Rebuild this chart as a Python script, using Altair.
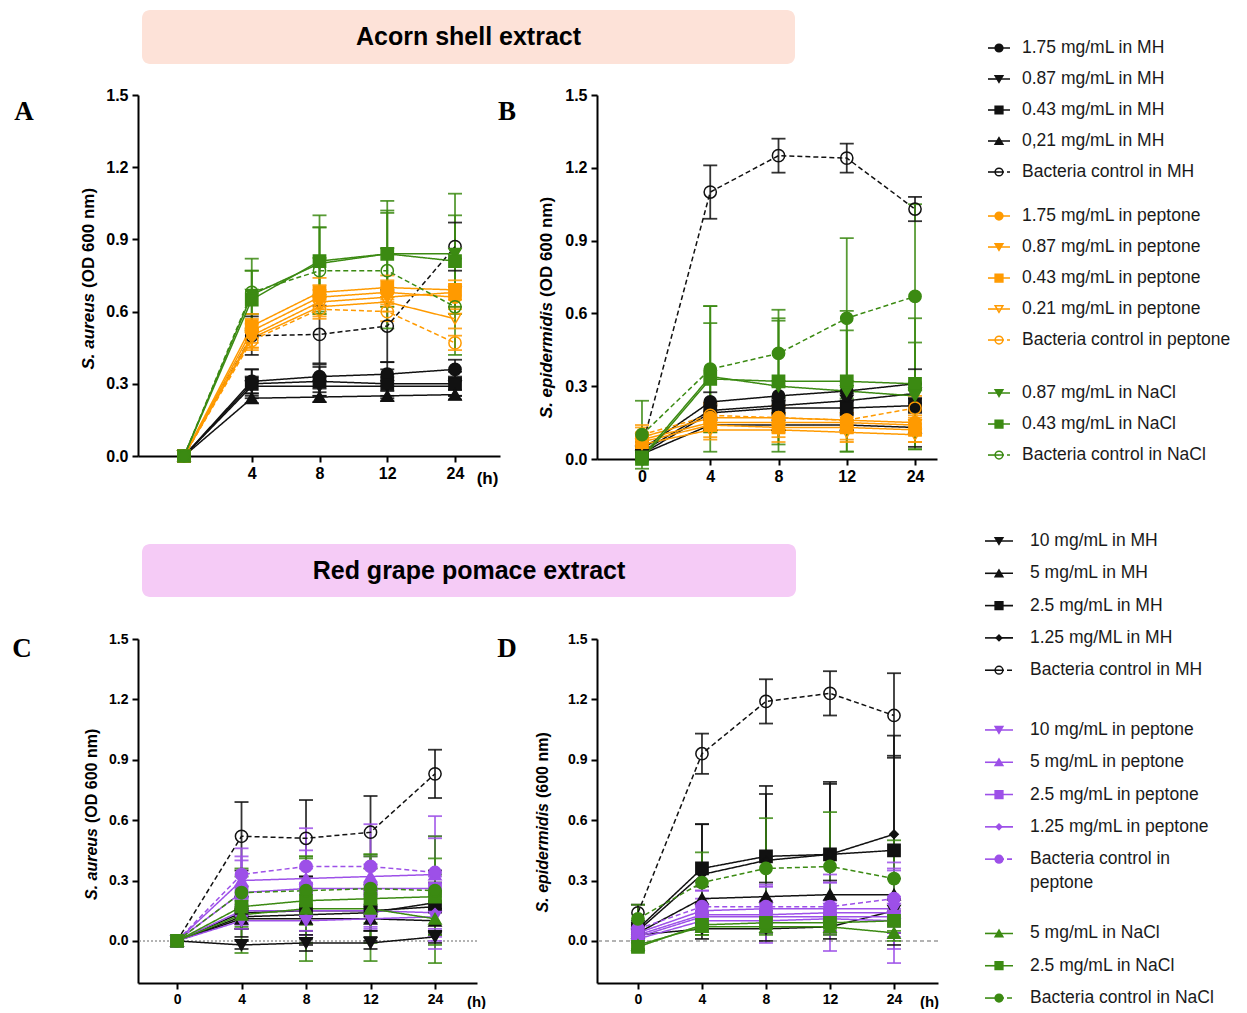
import altair as alt
import pandas as pd

# ---------------- data ----------------
TIMES = [0, 4, 8, 12, 24]
TIME_LABELS = ["0", "4", "8", "12", "24"]
Y_TICKS = [0.0, 0.3, 0.6, 0.9, 1.2, 1.5]

TITLE_ACORN = "Acorn shell extract"
TITLE_GRAPE = "Red grape pomace extract"

ACORN_LABELS = ["1.75 mg/mL in MH", "0.87 mg/mL in MH", "0.43 mg/mL in MH", "0,21 mg/mL in MH",
                "Bacteria control in MH",
                "1.75 mg/mL in peptone", "0.87 mg/mL in peptone", "0.43 mg/mL in peptone",
                "0.21 mg/mL in peptone", "Bacteria control in peptone",
                "0.87 mg/mL in NaCl", "0.43 mg/mL in NaCl", "Bacteria control in NaCl"]
GRAPE_LABELS = ["10 mg/mL in MH", "5 mg/mL in MH", "2.5 mg/mL in MH", "1.25 mg/ML in MH",
                "Bacteria control in MH",
                "10 mg/mL in peptone", "5 mg/mL in peptone", "2.5 mg/mL in peptone",
                "1.25 mg/mL in peptone", "Bacteria control in\npeptone",
                "5 mg/mL in NaCl", "2.5 mg/mL in NaCl", "Bacteria control in NaCl"]

# Panel A - S. aureus, acorn shell extract
A_MH_175 = [0.00, 0.31, 0.33, 0.34, 0.36]
A_MH_087 = [0.00, 0.29, 0.29, 0.29, 0.29]
A_MH_043 = [0.00, 0.30, 0.31, 0.30, 0.30]
A_MH_021 = [0.00, 0.24, 0.245, 0.25, 0.255]
A_MH_CTRL = [0.00, 0.50, 0.505, 0.54, 0.87]
A_PEP_175 = [0.00, 0.52, 0.66, 0.68, 0.66]
A_PEP_087 = [0.00, 0.50, 0.64, 0.66, 0.68]
A_PEP_043 = [0.00, 0.54, 0.68, 0.70, 0.69]
A_PEP_021 = [0.00, 0.49, 0.62, 0.64, 0.57]
A_PEP_CTRL = [0.00, 0.48, 0.61, 0.60, 0.47]
A_NACL_087 = [0.00, 0.67, 0.80, 0.84, 0.84]
A_NACL_043 = [0.00, 0.65, 0.81, 0.84, 0.81]
A_NACL_CTRL = [0.00, 0.68, 0.77, 0.77, 0.62]
A_SD = [[0, 0.05, 0.05, 0.05, 0.04], [0, 0.04, 0.04, 0.04, 0.04], [0, 0.06, 0.06, 0.06, 0.05],
        [0, 0.02, 0.02, 0.02, 0.02], [0, 0.08, 0.12, 0.15, 0.10],
        [0, 0.05, 0.05, 0.05, 0.04], [0, 0.05, 0.05, 0.04, 0.03], [0, 0.05, 0.06, 0.05, 0.04],
        [0, 0.04, 0.04, 0.04, 0.04], [0, 0.04, 0.04, 0.04, 0.03],
        [0, 0.15, 0.20, 0.22, 0.25], [0, 0.12, 0.14, 0.18, 0.19], [0, 0.09, 0.18, 0.24, 0.20]]

# Panel B - S. epidermidis, acorn shell extract
B_MH_175 = [0.04, 0.235, 0.26, 0.28, 0.31]
B_MH_087 = [0.03, 0.20, 0.22, 0.24, 0.27]
B_MH_043 = [0.02, 0.19, 0.21, 0.21, 0.22]
B_MH_021 = [0.02, 0.14, 0.14, 0.14, 0.13]
B_MH_CTRL = [0.05, 1.10, 1.25, 1.24, 1.03]
B_PEP_175 = [0.09, 0.17, 0.17, 0.16, 0.15]
B_PEP_087 = [0.08, 0.15, 0.15, 0.15, 0.14]
B_PEP_043 = [0.07, 0.14, 0.13, 0.13, 0.12]
B_PEP_021 = [0.06, 0.12, 0.12, 0.11, 0.10]
B_PEP_CTRL = [0.10, 0.18, 0.17, 0.16, 0.21]
B_NACL_087 = [0.01, 0.34, 0.30, 0.28, 0.26]
B_NACL_043 = [0.00, 0.33, 0.32, 0.32, 0.31]
B_NACL_CTRL = [0.10, 0.37, 0.435, 0.58, 0.67]
B_SD = [[0.03, 0.04, 0.04, 0.04, 0.06], [0.02, 0.03, 0.03, 0.03, 0.04], [0.02, 0.03, 0.03, 0.03, 0.03],
        [0.02, 0.02, 0.02, 0.02, 0.08], [0.02, 0.11, 0.07, 0.06, 0.05],
        [0.04, 0.05, 0.05, 0.05, 0.05], [0.03, 0.04, 0.04, 0.04, 0.04], [0.03, 0.06, 0.06, 0.06, 0.05],
        [0.03, 0.03, 0.03, 0.03, 0.03], [0.04, 0.05, 0.05, 0.05, 0.05],
        [0.01, 0.22, 0.27, 0.25, 0.22], [0.01, 0.30, 0.26, 0.29, 0.27], [0.14, 0.26, 0.18, 0.33, 0.38]]

# Panel C - S. aureus, red grape pomace extract
C_MH_10 = [0.00, -0.02, -0.01, -0.01, 0.02]
C_MH_5 = [0.00, 0.11, 0.11, 0.11, 0.10]
C_MH_25 = [0.00, 0.14, 0.15, 0.15, 0.17]
C_MH_125 = [0.00, 0.12, 0.13, 0.14, 0.19]
C_MH_CTRL = [0.00, 0.52, 0.51, 0.54, 0.83]
C_PEP_10 = [0.00, 0.10, 0.10, 0.11, 0.12]
C_PEP_5 = [0.00, 0.30, 0.31, 0.32, 0.33]
C_PEP_25 = [0.00, 0.24, 0.26, 0.26, 0.26]
C_PEP_125 = [0.00, 0.15, 0.15, 0.15, 0.14]
C_PEP_CTRL = [0.00, 0.33, 0.37, 0.37, 0.34]
C_NACL_5 = [0.00, 0.13, 0.16, 0.16, 0.11]
C_NACL_25 = [0.00, 0.17, 0.20, 0.21, 0.22]
C_NACL_CTRL = [0.00, 0.24, 0.25, 0.26, 0.25]
C_SD = [[0, 0.02, 0.04, 0.03, 0.03], [0, 0.05, 0.06, 0.06, 0.06], [0, 0.08, 0.17, 0.10, 0.12],
        [0, 0.10, 0.12, 0.14, 0.16], [0, 0.17, 0.19, 0.18, 0.12],
        [0, 0.04, 0.05, 0.05, 0.10], [0, 0.12, 0.14, 0.10, 0.18], [0, 0.16, 0.10, 0.12, 0.26],
        [0, 0.06, 0.12, 0.08, 0.18], [0, 0.13, 0.19, 0.21, 0.28],
        [0, 0.19, 0.26, 0.26, 0.22], [0, 0.10, 0.21, 0.22, 0.19], [0, 0.12, 0.17, 0.17, 0.27]]

# Panel D - S. epidermidis, red grape pomace extract
D_MH_10 = [0.03, 0.06, 0.06, 0.07, 0.15]
D_MH_5 = [0.04, 0.21, 0.22, 0.23, 0.23]
D_MH_25 = [0.06, 0.36, 0.42, 0.43, 0.45]
D_MH_125 = [0.05, 0.33, 0.40, 0.43, 0.53]
D_MH_CTRL = [0.14, 0.93, 1.19, 1.23, 1.12]
D_PEP_10 = [0.04, 0.15, 0.16, 0.16, 0.16]
D_PEP_5 = [0.03, 0.13, 0.13, 0.14, 0.14]
D_PEP_25 = [0.02, 0.12, 0.12, 0.12, 0.12]
D_PEP_125 = [0.01, 0.10, 0.10, 0.11, 0.10]
D_PEP_CTRL = [0.06, 0.17, 0.17, 0.17, 0.21]
D_NACL_5 = [-0.02, 0.07, 0.07, 0.07, 0.04]
D_NACL_25 = [-0.03, 0.08, 0.09, 0.09, 0.10]
D_NACL_CTRL = [0.11, 0.29, 0.36, 0.37, 0.31]
D_SD = [[0.02, 0.05, 0.06, 0.06, 0.06], [0.02, 0.06, 0.07, 0.07, 0.08], [0.03, 0.22, 0.35, 0.36, 0.47],
        [0.03, 0.25, 0.33, 0.35, 0.49], [0.04, 0.10, 0.11, 0.11, 0.21],
        [0.02, 0.10, 0.12, 0.13, 0.20], [0.02, 0.08, 0.14, 0.19, 0.25], [0.02, 0.06, 0.08, 0.08, 0.10],
        [0.02, 0.05, 0.06, 0.06, 0.06], [0.03, 0.08, 0.10, 0.12, 0.14],
        [0.02, 0.04, 0.04, 0.04, 0.04], [0.02, 0.05, 0.05, 0.05, 0.05], [0.07, 0.15, 0.25, 0.27, 0.19]]

A_VALUES = [A_MH_175, A_MH_087, A_MH_043, A_MH_021, A_MH_CTRL, A_PEP_175, A_PEP_087, A_PEP_043,
            A_PEP_021, A_PEP_CTRL, A_NACL_087, A_NACL_043, A_NACL_CTRL]
B_VALUES = [B_MH_175, B_MH_087, B_MH_043, B_MH_021, B_MH_CTRL, B_PEP_175, B_PEP_087, B_PEP_043,
            B_PEP_021, B_PEP_CTRL, B_NACL_087, B_NACL_043, B_NACL_CTRL]
C_VALUES = [C_MH_10, C_MH_5, C_MH_25, C_MH_125, C_MH_CTRL, C_PEP_10, C_PEP_5, C_PEP_25,
            C_PEP_125, C_PEP_CTRL, C_NACL_5, C_NACL_25, C_NACL_CTRL]
D_VALUES = [D_MH_10, D_MH_5, D_MH_25, D_MH_125, D_MH_CTRL, D_PEP_10, D_PEP_5, D_PEP_25,
            D_PEP_125, D_PEP_CTRL, D_NACL_5, D_NACL_25, D_NACL_CTRL]

# ---------------- styles ----------------
FONT = "Liberation Sans"
SERIF = "Liberation Serif"
BLACK = "#111111"
ORANGE = "#ff9a00"
GREEN = "#3b8a12"
PURPLE = "#9d50e8"
PEACH = "#fde2d8"
PINK = "#f5cbf6"

GROUPS = [0, 0, 0, 0, 0, 1, 1, 1, 1, 1, 2, 2, 2]
ACORN_PALETTE = [BLACK, ORANGE, GREEN]
GRAPE_PALETTE = [BLACK, PURPLE, GREEN]
ACORN_SHAPES = ["circle", "triangle-down", "square", "triangle-up", "circle",
                "circle", "triangle-down", "square", "triangle-down", "circle",
                "triangle-down", "square", "circle"]
ACORN_OPEN = [False, False, False, False, True, False, False, False, True, True, False, False, True]
GRAPE_SHAPES = ["triangle-down", "triangle-up", "square", "diamond", "circle",
                "triangle-down", "triangle-up", "square", "diamond", "circle",
                "triangle-up", "square", "circle"]
GRAPE_OPEN = [False, False, False, False, True, False, False, False, False, False, False, False, False]
DASHED = [False, False, False, False, True, False, False, False, False, True, False, False, True]

DASH = alt.Scale(domain=["solid", "dash"], range=[[1, 0], [5, 3]])
LABEL_EXPR = "[" + ",".join("'%s'" % t for t in TIME_LABELS) + "][datum.value]"


def build_df(values, sds, shapes, opens, palette, force_filled=()):
    rows = []
    for k, series in enumerate(values):
        color = palette[GROUPS[k]]
        is_open = opens[k] and k not in force_filled
        for i, t in enumerate(TIMES):
            v = series[i]
            s = sds[k][i]
            rows.append({"series": k, "xi": i, "time": t, "value": v, "lo": v - s, "hi": v + s,
                         "color": color, "shape": shapes[k],
                         "fill": "transparent" if is_open else color,
                         "dash": "dash" if DASHED[k] else "solid",
                         "size": 70 if shapes[k] == "diamond" else 150})
    return pd.DataFrame(rows)


def panel(df, xdom, ydom, xvals, lab_size, letter, letter_xy, yt_it, yt_rest, yt_x, yt_split,
          yt_size, htitle_xy=None, zero_dash=None, box=None):
    xkw = dict(values=xvals, labelExpr=LABEL_EXPR, grid=False, domainColor="black", domainWidth=2,
               tickColor="black", tickWidth=2, tickSize=6, labelFont=FONT, labelFontWeight="bold",
               labelFontSize=lab_size, labelColor="black", labelPadding=3, labelFlush=False,
               labelOverlap=False, title="")
    if htitle_xy is not None:
        xkw.update(title="(h)", titleX=htitle_xy[0], titleY=htitle_xy[1], titleFont=FONT,
                   titleFontWeight="bold", titleFontSize=lab_size + 1, titleColor="black",
                   titleBaseline="middle", titleAlign="center")
    ykw = dict(values=Y_TICKS, format=".1f", grid=False, domainColor="black", domainWidth=2,
               tickColor="black", tickWidth=2, tickSize=6, labelFont=FONT, labelFontWeight="bold",
               labelFontSize=lab_size, labelColor="black", labelPadding=4, labelFlush=False,
               labelOverlap=False, title="")
    X = alt.X("xi:Q", scale=alt.Scale(domain=xdom, nice=False, zero=False), axis=alt.Axis(**xkw))

    def Y(field):
        return alt.Y(field + ":Q", scale=alt.Scale(domain=ydom, nice=False, zero=False),
                     axis=alt.Axis(**ykw))

    col = alt.Color("color:N", scale=None)
    base = alt.Chart(df)
    layers = []
    if box is not None:
        bdf = pd.DataFrame({"t": [box["text"]]})
        bb = alt.Chart(bdf)
        layers.append(bb.mark_rect(cornerRadius=8, color=box["fill"]).encode(
            x=alt.value(box["x"][0]), x2=alt.value(box["x"][1]),
            y=alt.value(box["y"][0]), y2=alt.value(box["y"][1])))
        layers.append(bb.mark_text(font=FONT, fontWeight="bold", fontSize=25, color="black",
                                   baseline="middle").encode(
            text="t:N", x=alt.value((box["x"][0] + box["x"][1]) / 2),
            y=alt.value((box["y"][0] + box["y"][1]) / 2)))
    if zero_dash is not None:
        zdf = pd.DataFrame({"z": [0.0]})
        layers.append(alt.Chart(zdf).mark_rule(color="#9a9a9a", strokeWidth=1.5,
                                               strokeDash=zero_dash).encode(y=Y("z")))
    layers.append(base.mark_rule(strokeWidth=1.8, opacity=0.85).encode(
        x=X, y=Y("lo"), y2="hi:Q", color=col))
    layers.append(base.mark_tick(orient="horizontal", size=14, thickness=1.8, opacity=0.85).encode(
        x=X, y=Y("lo"), color=col))
    layers.append(base.mark_tick(orient="horizontal", size=14, thickness=1.8, opacity=0.85).encode(
        x=X, y=Y("hi"), color=col))
    layers.append(base.mark_line(strokeWidth=1.5).encode(
        x=X, y=Y("value"), color=col, detail="series:N",
        strokeDash=alt.StrokeDash("dash:N", scale=DASH, legend=None), order="xi:Q"))
    layers.append(base.mark_point(opacity=1, strokeWidth=1.5).encode(
        x=X, y=Y("value"), color=col, fill=alt.Fill("fill:N", scale=None),
        shape=alt.Shape("shape:N", scale=None), size=alt.Size("size:Q", scale=None)))
    # panel letter
    ldf = alt.Chart(pd.DataFrame({"t": [letter]}))
    layers.append(ldf.mark_text(font=SERIF, fontWeight="bold", fontSize=27, color="black",
                                baseline="middle").encode(
        text="t:N", x=alt.value(letter_xy[0]), y=alt.value(letter_xy[1])))
    # y title: italic species name + normal unit
    it = alt.Chart(pd.DataFrame({"t": [yt_it]}))
    layers.append(it.mark_text(font=FONT, fontWeight="bold", fontStyle="italic", fontSize=yt_size,
                               angle=270, align="right", baseline="middle", color="black").encode(
        text="t:N", x=alt.value(yt_x), y=alt.value(yt_split + 3)))
    rest = alt.Chart(pd.DataFrame({"t": [yt_rest]}))
    layers.append(rest.mark_text(font=FONT, fontWeight="bold", fontSize=yt_size, angle=270,
                                 align="left", baseline="middle", color="black").encode(
        text="t:N", x=alt.value(yt_x), y=alt.value(yt_split - 2)))
    return alt.layer(*layers)


def legend(labels, shapes, opens, palette, offsets, y0, step, height, xs):
    rows = []
    for k, lab in enumerate(labels):
        g = GROUPS[k]
        color = palette[g]
        rows.append({"slot": k + offsets[g], "label": lab, "color": color, "shape": shapes[k],
                     "fill": "transparent" if opens[k] else color,
                     "dash": "dash" if DASHED[k] else "solid",
                     "size": 30 if shapes[k] == "diamond" else 60})
    df = pd.DataFrame(rows)
    y = alt.Y("slot:Q", scale=alt.Scale(domain=[-y0 / step, (height - y0) / step], reverse=True,
                                        nice=False, zero=False), axis=None)
    col = alt.Color("color:N", scale=None)
    base = alt.Chart(df)
    left = base.mark_rule(strokeWidth=1.6).encode(x=alt.value(xs[0]), x2=alt.value(xs[1]), y=y,
                                                  color=col)
    right = base.mark_rule(strokeWidth=1.6).encode(
        x=alt.value(xs[1]), x2=alt.value(xs[2]), y=y, color=col,
        strokeDash=alt.StrokeDash("dash:N", scale=DASH, legend=None))
    pts = base.mark_point(opacity=1, strokeWidth=1.5).encode(
        x=alt.value(xs[1]), y=y, color=col, fill=alt.Fill("fill:N", scale=None),
        shape=alt.Shape("shape:N", scale=None), size=alt.Size("size:Q", scale=None))
    txt = base.mark_text(font=FONT, fontSize=17.5, align="left", baseline="top", dy=-9,
                         lineBreak="\n", lineHeight=24, color="#1a1a1a").encode(
        x=alt.value(xs[3]), y=y, text="label:N")
    return alt.layer(left, right, pts, txt)


dfA = build_df(A_VALUES, A_SD, ACORN_SHAPES, ACORN_OPEN, ACORN_PALETTE)
dfB = build_df(B_VALUES, B_SD, ACORN_SHAPES, ACORN_OPEN, ACORN_PALETTE, force_filled=(12,))
dfC = build_df(C_VALUES, C_SD, GRAPE_SHAPES, GRAPE_OPEN, GRAPE_PALETTE)
dfD = build_df(D_VALUES, D_SD, GRAPE_SHAPES, GRAPE_OPEN, GRAPE_PALETTE)

W_A, H_A = 362, 361
W_B, H_B = 340, 364
W_C, H_C = 339, 344
W_D, H_D = 341, 344
YDOM_TOP = [0.0, 1.5]
YDOM_BOT = [-0.209, 1.5]

chartA = panel(dfA, [-0.679, 4.664], YDOM_TOP, [1, 2, 3, 4], 16, "A", (-114, 17),
               "S. aureus", "(OD 600 nm)", -49, 195, 17, htitle_xy=(349, 22),
               box={"text": TITLE_ACORN, "fill": PEACH, "x": (4, 657), "y": (-85, -31)}
               ).properties(width=W_A, height=H_A)

panelB = panel(dfB, [-0.659, 4.322], YDOM_TOP, [0, 1, 2, 3, 4], 16, "B", (-90, 17),
               "S. epidermidis", "(OD 600 nm)", -50, 204, 17)
legTop = legend(ACORN_LABELS, ACORN_SHAPES, ACORN_OPEN, ACORN_PALETTE, [0, 0.42, 1.13],
                -47, 31, H_B, (391, 402, 413, 425))
chartB = alt.layer(panelB, legTop).resolve_scale(y="independent").properties(width=W_B, height=H_B)

chartC = panel(dfC, [-0.605, 4.651], YDOM_BOT, [0, 1, 2, 3, 4], 14, "C", (-116, 10),
               "S. aureus", "(OD 600 nm)", -46, 186, 16, htitle_xy=(338, 18), zero_dash=[2, 2],
               box={"text": TITLE_GRAPE, "fill": PINK, "x": (4, 658), "y": (-95, -42)}
               ).properties(width=W_C, height=H_C)

panelD = panel(dfD, [-0.64, 4.6875], YDOM_BOT, [0, 1, 2, 3, 4], 14, "D", (-90, 10),
               "S. epidermidis", "(600 nm)", -54, 161, 16, htitle_xy=(332, 18), zero_dash=[4, 3])
legBot = legend(GRAPE_LABELS, GRAPE_SHAPES, GRAPE_OPEN, GRAPE_PALETTE, [0, 0.85, 2.15],
                -98, 32.3, H_D, (388, 402, 416, 433))
chartD = alt.layer(panelD, legBot).resolve_scale(y="independent").properties(width=W_D, height=H_D)

chart = alt.concat(chartA, chartB, chartC, chartD, columns=2,
                   spacing={"row": 180, "column": 97}, bounds="flush").properties(
    padding={"left": 4, "top": 2, "right": 2, "bottom": 0}
).configure(font=FONT).configure_view(stroke=None)

chart.save("out.html", embed_options={"renderer": "svg", "actions": False})
